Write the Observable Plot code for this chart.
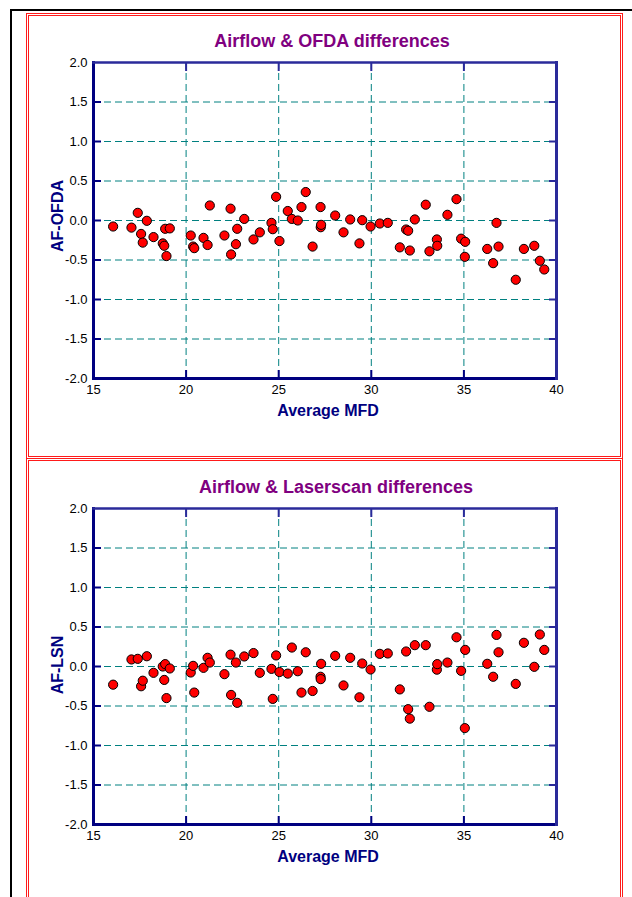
<!DOCTYPE html>
<html>
<head>
<meta charset="utf-8">
<script src="https://cdn.jsdelivr.net/npm/d3@7"></script>
<script src="https://cdn.jsdelivr.net/npm/@observablehq/plot@0.6"></script>
<style>
  html, body { margin: 0; padding: 0; background: #fff; overflow: hidden; }
  body { width: 632px; height: 897px; position: relative; overflow: hidden; font-family: "Liberation Sans", Arial, sans-serif; }
  .abs { position: absolute; }
  .box { position: absolute; box-sizing: border-box; border: 3px double #ff1a1a; }
  .title { position: absolute; width: 400px; text-align: center; font-weight: bold; font-size: 18px; line-height: 20px; color: #800080; }
  .xlab { position: absolute; width: 300px; text-align: center; font-weight: bold; font-size: 16px; line-height: 18px; color: #000080; }
  .ylab { position: absolute; font-weight: bold; font-size: 16px; line-height: 18px; color: #000080; white-space: nowrap; transform: translate(-50%, -50%) rotate(-90deg); }
</style>
</head>
<body>
<div class="abs" style="left:10px;top:9px;width:2px;height:888px;background:#000"></div>
<div class="abs" style="left:10px;top:9px;width:622px;height:2px;background:#000"></div>
<div class="box" style="left:26px;top:13px;width:597px;height:446px"></div>
<div class="box" style="left:26px;top:458px;width:597px;height:445px;border-bottom:none"></div>

<div class="title" style="left:132px;top:31px">Airflow &amp; OFDA differences</div>
<div class="title" style="left:136px;top:477px">Airflow &amp; Laserscan differences</div>
<div class="xlab" style="left:178px;top:402px">Average MFD</div>
<div class="xlab" style="left:178px;top:848px">Average MFD</div>
<div class="ylab" style="left:58px;top:216px">AF-OFDA</div>
<div class="ylab" style="left:58px;top:665px">AF-LSN</div>

<div id="c1" class="abs" style="left:30px;top:50px"></div>
<div id="c2" class="abs" style="left:30px;top:496px"></div>

<script>
// Average MFD (shared x values)
const mfd = [16.06,17.05,17.39,17.88,17.57,17.66,18.24,18.74,18.82,18.94,18.87,19.12,20.25,20.38,20.44,20.94,21.16,21.28,22.07,22.40,22.43,22.69,22.76,23.14,23.64,23.98,24.61,24.68,24.86,25.04,25.49,25.71,26.03,26.23,26.46,26.83,27.26,27.27,27.29,28.05,28.50,28.86,29.36,29.51,29.96,30.46,30.89,31.54,31.88,31.99,32.08,32.35,32.94,33.14,33.54,33.56,34.11,34.60,34.85,35.07,35.05,36.26,36.58,36.76,36.87,37.80,38.24,38.80,39.10,39.34];

// Airflow - OFDA differences
const afOfda = [-0.076,-0.09,0.097,-0.004,-0.17,-0.28,-0.21,-0.29,-0.32,-0.45,-0.105,-0.10,-0.19,-0.33,-0.35,-0.22,-0.31,0.19,-0.19,0.15,-0.43,-0.30,-0.105,0.02,-0.24,-0.15,-0.03,-0.11,0.30,-0.26,0.12,0.02,0.0,0.17,0.36,-0.33,0.17,-0.085,-0.055,0.063,-0.15,0.013,-0.29,0.004,-0.076,-0.038,-0.03,-0.34,-0.114,-0.13,-0.38,0.013,0.20,-0.39,-0.24,-0.32,0.072,0.27,-0.23,-0.27,-0.46,-0.36,-0.54,-0.03,-0.33,-0.75,-0.36,-0.32,-0.51,-0.62];

// Airflow - Laserscan differences
const afLsn = [-0.23,0.089,0.097,0.13,-0.25,-0.18,-0.08,0.0,-0.17,-0.40,0.03,-0.025,-0.076,0.008,-0.33,-0.017,0.11,0.05,-0.097,0.15,-0.36,0.05,-0.46,0.127,0.17,-0.08,-0.03,-0.41,0.14,-0.07,-0.09,0.24,-0.06,-0.33,0.18,-0.31,-0.13,-0.16,0.034,0.135,-0.24,0.11,-0.39,0.038,-0.038,0.16,0.165,-0.29,0.19,-0.54,-0.66,0.27,0.27,-0.51,-0.04,0.03,0.05,0.37,-0.055,0.21,-0.78,0.034,-0.13,0.40,0.18,-0.22,0.30,-0.004,0.405,0.21];

const xTicks = [15, 20, 25, 30, 35, 40];
const yTicks = [-2.0, -1.5, -1.0, -0.5, 0.0, 0.5, 1.0, 1.5, 2.0];
const xGrid = [20, 25, 30, 35];
const yGrid = [-1.5, -1.0, -0.5, 0.0, 0.5, 1.0, 1.5];
const xInner = [20, 25, 30, 35];
const yInner = [-1.5, -1.0, -0.5, 0.0, 0.5, 1.0, 1.5];

function chart(ys) {
  const data = mfd.map((x, i) => ({x, y: ys[i]}));
  const navy = "#000080";
  return Plot.plot({
    width: 560,
    height: 360,
    marginLeft: 63,
    marginRight: 34,
    marginTop: 12,
    marginBottom: 32,
    style: {fontFamily: "'Liberation Sans', Arial, sans-serif", fontSize: "13px", color: "#000", background: "transparent"},
    x: {domain: [15, 40]},
    y: {domain: [-2, 2]},
    marks: [
      Plot.gridX(xGrid, {stroke: "#008080", strokeOpacity: 1, strokeDasharray: "7,4", strokeWidth: 1}),
      Plot.gridY(yGrid, {stroke: "#008080", strokeOpacity: 1, strokeDasharray: "7,4", strokeWidth: 1}),
      // labels
      Plot.axisX(xTicks, {anchor: "bottom", tickSize: 0, tickPadding: 6, tickFormat: d => String(d), label: null, fill: "#000", fontSize: 13}),
      Plot.axisY(yTicks, {anchor: "left", tickSize: 0, tickPadding: 6, tickFormat: d => d.toFixed(1), label: null, fill: "#000", fontSize: 13}),
      // inward ticks
      Plot.axisY(yInner, {anchor: "left", tickSize: 8, dx: 8, tickFormat: null, text: null, label: null, stroke: navy, strokeWidth: 2}),
      Plot.axisY(yInner, {anchor: "right", tickSize: 8, dx: -8, tickFormat: null, text: null, label: null, stroke: "#2a2a9a", strokeWidth: 2}),
      Plot.axisX(xInner, {anchor: "bottom", tickSize: 8, dy: -8, tickFormat: null, text: null, label: null, stroke: navy, strokeWidth: 2}),
      Plot.axisX(xInner, {anchor: "top", tickSize: 8, dy: 8, tickFormat: null, text: null, label: null, stroke: "#2a2a9a", strokeWidth: 2}),
      Plot.frame({anchor: "left", stroke: navy, strokeWidth: 3}),
      Plot.frame({anchor: "bottom", stroke: navy, strokeWidth: 3}),
      Plot.frame({anchor: "top", stroke: "#2a2a9a", strokeWidth: 2.5}),
      Plot.frame({anchor: "right", stroke: "#2a2a9a", strokeWidth: 3}),
      Plot.dot(data, {x: "x", y: "y", r: 4.6, fill: "#ff0000", stroke: "#000", strokeWidth: 1})
    ]
  });
}

document.getElementById("c1").appendChild(chart(afOfda));
document.getElementById("c2").appendChild(chart(afLsn));
</script>
</body>
</html>
